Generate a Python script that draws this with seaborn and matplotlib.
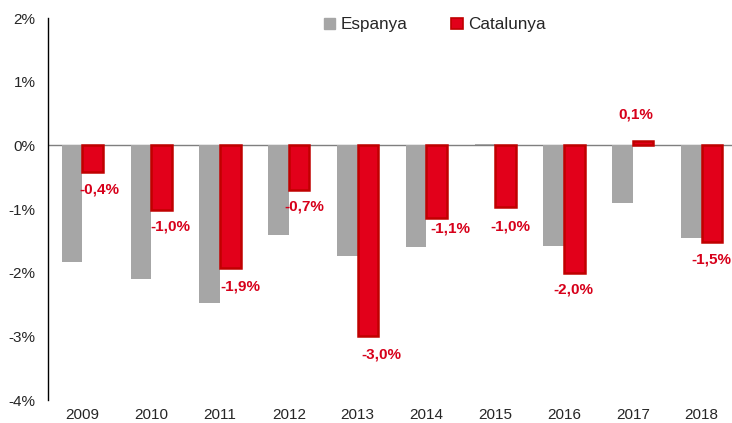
import matplotlib
matplotlib.use("Agg")
import matplotlib.pyplot as plt
import pandas
import seaborn as sns
from matplotlib.patches import Patch

# Chart data (percent)
years = ["2009", "2010", "2011", "2012", "2013",
         "2014", "2015", "2016", "2017", "2018"]
espanya = [-1.84, -2.10, -2.48, -1.41, -1.74, -1.59, 0.02, -1.58, -0.91, -1.45]
catalunya = [-0.42, -1.02, -1.93, -0.70, -3.00, -1.14, -0.97, -2.00, 0.07, -1.52]
series_names = ["Espanya", "Catalunya"]
ytick_values = [2, 1, 0, -1, -2, -3, -4]
ytick_labels = ["2%", "1%", "0%", "-1%", "-2%", "-3%", "-4%"]

# Label nudges relative to bar end (pixels), as placed in the original
label_dx = [7, 9, 10, 5, 13, 14, 5, -1, -7, -1]
label_dy = [-17, -16, -18, -17, -18, -11, -19, -17, 26, -17]

GREY = "#A6A6A6"
RED = "#E2001A"
DARK_RED = "#C00000"


def build_frame():
    """
    Long format table for seaborn
    """
    rows = []
    for name, values in zip(series_names, [espanya, catalunya]):
        for year, v in zip(years, values):
            rows.append({"year": year, "region": name, "value": v})
    return pandas.DataFrame(rows)


def main():
    df = build_frame()

    sns.set_style("white")
    plt.rcParams["font.family"] = ["Liberation Sans", "DejaVu Sans"]

    fig = plt.figure(figsize=(7.32, 4.23), dpi=100)
    ax = fig.add_axes([48 / 732, 23 / 423, 688 / 732, 382 / 423])

    sns.barplot(data=df, x="year", y="value", hue="region",
                palette=[GREY, RED], saturation=1, width=0.6,
                errorbar=None, legend=False, ax=ax)

    # Dark red outline on Catalunya bars
    for bar in ax.containers[1]:
        bar.set_edgecolor(DARK_RED)
        bar.set_linewidth(1.8)
    for bar in ax.containers[0]:
        bar.set_linewidth(0)

    # Value labels for Catalunya
    for bar, v, dx, dy in zip(ax.containers[1], catalunya, label_dx, label_dy):
        x = bar.get_x() + bar.get_width() / 2
        txt = ("%.1f%%" % v).replace(".", ",")
        ax.annotate(txt, (x, v), xytext=(dx, dy), textcoords="offset pixels",
                    ha="center", va="center", color="#D7001A",
                    fontsize=11, fontweight="bold")

    # Axes styling
    ax.set_ylim(-4, 2)
    ax.set_xlim(-0.5, len(years) - 0.5)
    ax.set_yticks(ytick_values)
    ax.set_yticklabels(ytick_labels, fontsize=11)
    ax.tick_params(axis="y", length=0, pad=9)
    ax.tick_params(axis="x", length=0, pad=6, labelsize=11)
    ax.set_xlabel("")
    ax.set_ylabel("")
    ax.axhline(0, color="#7F7F7F", linewidth=1, zorder=0.5)
    for side in ["top", "right", "bottom"]:
        ax.spines[side].set_visible(False)
    ax.spines["left"].set_color("black")
    ax.spines["left"].set_linewidth(1)

    # Legend at the top
    handles = [Patch(facecolor=GREY, edgecolor=GREY),
               Patch(facecolor=RED, edgecolor=DARK_RED, linewidth=1.2)]
    fig.legend(handles, series_names, loc="center",
               bbox_to_anchor=(435 / 732, 1 - 25 / 423), ncol=2,
               frameon=False, fontsize=12.3, handlelength=0.65,
               handleheight=0.65, handletextpad=0.35, columnspacing=2.55)

    fig.savefig("out.png", dpi=100)


if __name__ == "__main__":
    main()
